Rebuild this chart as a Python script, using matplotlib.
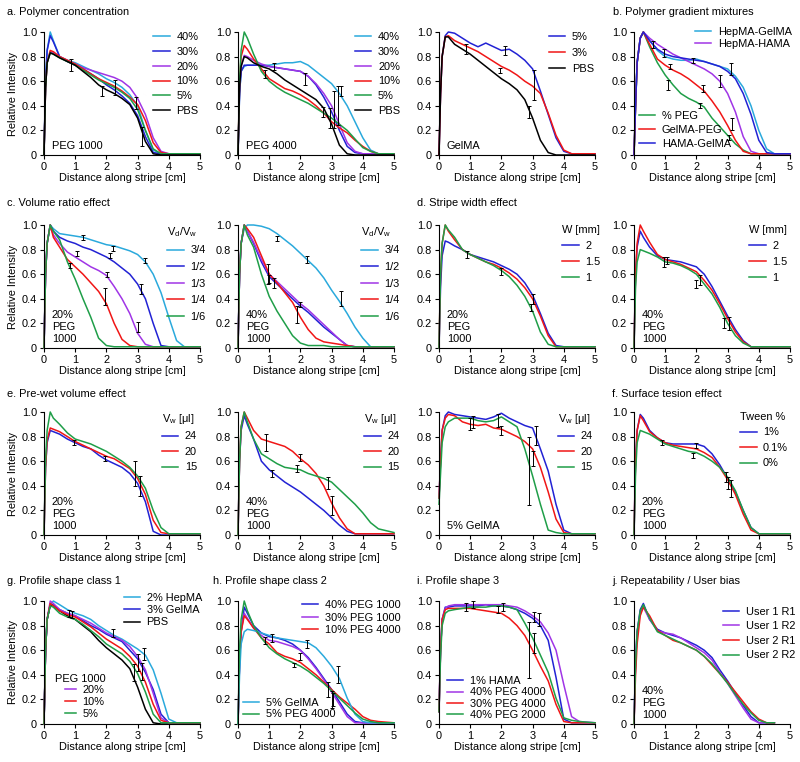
import matplotlib
matplotlib.use('Agg')
import matplotlib.pyplot as plt

plt.rcParams['font.family'] = ['Liberation Sans', 'DejaVu Sans']
plt.rcParams['mathtext.fontset'] = 'custom'
plt.rcParams['mathtext.rm'] = 'Liberation Sans'
plt.rcParams['mathtext.it'] = 'Liberation Sans:italic'
FS = 7.9
plt.rcParams['font.size'] = FS

# sampling positions along the stripe [cm], shared by every profile
DIST = [0, 0.05, 0.1, 0.2, 0.3, 0.5, 0.75, 1.0, 1.25, 1.5, 1.75, 2.0,
        2.25, 2.5, 2.75, 3.0, 3.25, 3.5, 3.75, 4.0, 4.25, 4.5, 5.0]
NAN = float('nan')

# --- a. polymer concentration -------------------------------------------
A1_LABELS = ['40%', '30%', '20%', '10%', '5%', 'PBS']
A1_Y = [
    [0, .6, .85, 1.0, .93, .8, .77, .75, .72, .69, .66, .62, .59, .55, .49, .4, .2, .04, .01, .01, .01, .01, .01],
    [0, .6, .85, .97, .92, .8, .76, .73, .7, .66, .62, .57, .53, .48, .42, .32, .15, .02, .01, .01, .01, .01, .01],
    [0, .55, .75, .84, .83, .8, .77, .74, .71, .69, .67, .65, .63, .6, .55, .46, .33, .14, .03, .01, .01, .01, .01],
    [0, .55, .75, .85, .84, .8, .77, .74, .7, .66, .62, .59, .56, .52, .47, .41, .28, .1, .02, .01, .01, .01, .01],
    [0, .55, .75, .83, .82, .79, .76, .73, .69, .65, .61, .58, .55, .51, .46, .37, .2, .05, .01, .01, .01, .01, .01],
    [0, .55, .75, .83, .82, .79, .76, .73, .68, .63, .57, .53, .5, .46, .41, .3, .11, .01, 0, 0, 0, 0, 0],
]
A1_ERR = [(0.85, 0.73, 0.05), (1.85, 0.52, 0.04), (2.28, 0.55, 0.06), (2.96, 0.42, 0.05), (3.13, 0.15, 0.08)]

A2_LABELS = ['40%', '30%', '20%', '10%', '5%', 'PBS']
A2_Y = [
    [0, .5, .68, .72, .73, .73, .73, .73, .74, .75, .75, .76, .73, .68, .63, .58, .5, .4, .27, .14, .04, .01, .01],
    [0, .5, .68, .73, .73, .73, .73, .72, .71, .7, .69, .68, .64, .57, .47, .35, .2, .07, .02, .01, .01, .01, .01],
    [0, .55, .72, .81, .8, .77, .74, .72, .71, .7, .69, .68, .64, .58, .5, .4, .25, .1, .03, .01, .01, .01, .01],
    [0, .6, .8, .89, .86, .78, .7, .62, .58, .54, .52, .49, .45, .4, .34, .27, .22, .18, .12, .07, .03, .01, .01],
    [0, .6, .85, 1.0, .95, .82, .68, .6, .55, .51, .48, .45, .42, .38, .34, .3, .25, .2, .13, .06, .03, .01, .01],
    [0, .55, .72, .8, .79, .75, .72, .7, .66, .61, .57, .53, .49, .45, .38, .25, .08, .01, 0, 0, 0, 0, 0],
]
A2_ERR = [(0.88, 0.66, 0.03), (1.14, 0.72, 0.03), (2.16, 0.62, 0.05), (2.74, 0.35, 0.04),
          (2.94, 0.3, 0.08), (3.09, 0.37, 0.15), (3.2, 0.4, 0.16), (3.3, 0.52, 0.04)]

A3_LABELS = ['5%', '3%', 'PBS']
A3_Y = [
    [0, .5, .8, .97, 1.0, .99, .95, .91, .88, .91, .88, .85, .86, .82, .77, .7, .52, .33, .14, .03, .01, .01, .01],
    [0, .5, .8, .96, .97, .93, .9, .87, .84, .8, .76, .72, .69, .65, .6, .56, .5, .34, .16, .04, .01, .01, .01],
    [0, .5, .8, .96, .96, .9, .86, .82, .77, .72, .67, .62, .58, .53, .45, .3, .12, .02, 0, 0, 0, 0, 0],
]
A3_ERR = [(0.85, 0.86, 0.04), (2.1, 0.85, 0.04), (1.95, 0.69, 0.02), (2.9, 0.35, 0.05), (3.05, 0.57, 0.12)]

# --- b. polymer gradient mixtures ---------------------------------------
B_LABELS = ['HepMA-GelMA', 'HepMA-HAMA', '% PEG', 'GelMA-PEG', 'HAMA-GelMA']
B_Y = [
    [0, .4, .75, .95, 1.0, .93, .85, .8, .78, .77, .77, .78, .76, .74, .72, .7, .64, .55, .4, .2, .05, .01, .01],
    [0, .4, .75, .95, 1.0, .95, .9, .86, .82, .79, .76, .73, .7, .66, .6, .5, .35, .15, .03, .01, .01, .01, .01],
    [0, .4, .75, .95, 1.0, .88, .75, .65, .57, .5, .46, .43, .39, .3, .23, .16, .09, .04, .01, .01, .01, .01, .01],
    [0, .4, .75, .95, 1.0, .9, .78, .73, .69, .66, .62, .57, .52, .44, .35, .24, .12, .03, .01, .01, .01, .01, .01],
    [0, .4, .75, .95, 1.0, .93, .86, .82, .8, .79, .78, .77, .76, .74, .72, .68, .62, .5, .33, .12, .02, .01, .01],
]
B_ERR = [(0.6, 0.9, 0.03), (0.95, 0.83, 0.03), (1.15, 0.72, 0.02), (1.1, 0.57, 0.04), (1.9, 0.77, 0.02),
         (2.2, 0.54, 0.03), (2.1, 0.4, 0.02), (2.75, 0.6, 0.05), (3.1, 0.7, 0.05), (3.15, 0.25, 0.05), (3.05, 0.14, 0.02)]

# --- c. volume ratio effect ---------------------------------------------
C_LABELS = ['3/4', '1/2', '1/3', '1/4', '1/6']
C1_Y = [
    [0, .6, .85, 1.0, .97, .93, .92, .91, .9, .88, .86, .84, .83, .81, .79, .76, .7, .6, .45, .25, .06, .01, .01],
    [0, .6, .85, 1.0, .95, .9, .87, .85, .82, .8, .77, .74, .7, .65, .6, .52, .4, .2, .02, .01, .01, .01, .01],
    [0, .6, .85, 1.0, .92, .85, .78, .74, .7, .66, .63, .59, .5, .4, .28, .12, .03, .01, .01, .01, .01, .01, .01],
    [0, .6, .85, 1.0, .9, .82, .72, .66, .6, .53, .46, .36, .2, .07, .02, .01, .01, .01, .01, .01, .01, .01, .01],
    [0, .6, .85, 1.0, .95, .88, .7, .56, .4, .25, .08, .02, .01, .01, .01, .01, .01, .01, .01, .01, .01, .01, .01],
]
C1_ERR = [(1.26, 0.9, 0.02), (2.22, 0.81, 0.02), (2.1, 0.75, 0.02), (3.24, 0.71, 0.02), (3.1, 0.48, 0.04),
          (2.03, 0.6, 0.02), (1.05, 0.77, 0.02), (0.83, 0.67, 0.02), (1.95, 0.42, 0.07), (3.0, 0.17, 0.04)]
C2_Y = [
    [0, .6, .85, .97, 1.0, 1.0, .99, .97, .93, .88, .83, .77, .71, .65, .57, .47, .38, .28, .17, .08, .01, .01, .01],
    [0, .6, .85, 1.0, .95, .85, .7, .58, .52, .46, .4, .34, .29, .23, .17, .12, .07, .02, .01, .01, .01, .01, .01],
    [0, .6, .85, 1.0, .95, .86, .72, .6, .54, .48, .42, .36, .31, .25, .19, .13, .07, .02, .01, .01, .01, .01, .01],
    [0, .6, .85, 1.0, .97, .9, .75, .6, .53, .45, .37, .25, .15, .08, .05, .04, .03, .02, .01, .01, .01, .01, .01],
    [0, .6, .85, 1.0, .92, .82, .6, .42, .3, .2, .1, .04, .02, .02, .02, .01, .01, .01, .01, .01, .01, .01, .01],
]
C2_ERR = [(1.25, 0.89, 0.02), (2.2, 0.72, 0.03), (3.3, 0.4, 0.06), (0.95, 0.6, 0.08), (1.0, 0.56, 0.03),
          (1.15, 0.53, 0.04), (1.9, 0.27, 0.07), (2.0, 0.35, 0.02)]

# --- d. stripe width effect ---------------------------------------------
D_LABELS = ['2', '1.5', '1']
D1_Y = [
    [0, .5, .75, .87, .86, .83, .8, .76, .74, .72, .7, .67, .64, .6, .53, .43, .28, .12, .02, .01, .01, .01, .01],
    [0, .6, .85, 1.0, .95, .88, .8, .76, .73, .7, .68, .65, .61, .56, .49, .4, .26, .1, .01, .01, .01, .01, .01],
    [0, .6, .85, 1.0, .96, .9, .8, .76, .73, .7, .67, .63, .58, .51, .42, .3, .13, .03, .01, .01, .01, .01, .01],
]
D1_ERR = [(0.9, 0.76, 0.03), (2.0, 0.62, 0.03), (3.0, 0.4, 0.04), (2.95, 0.33, 0.03)]
D2_Y = [
    [0, .6, .82, .95, .9, .82, .75, .72, .71, .7, .68, .66, .6, .5, .38, .26, .15, .06, .01, .01, .01, .01, .01],
    [0, .6, .85, 1.0, .95, .86, .76, .72, .7, .68, .65, .62, .55, .47, .36, .24, .13, .05, .01, .01, .01, .01, .01],
    [0, .5, .7, .8, .79, .77, .74, .7, .69, .67, .64, .6, .52, .44, .33, .2, .1, .04, .01, .01, .01, .01, .01],
]
D2_ERR = [(0.95, 0.7, 0.04), (1.05, 0.71, 0.03), (2.0, 0.52, 0.03), (2.1, 0.55, 0.04), (2.9, 0.2, 0.04), (3.05, 0.2, 0.05)]

# --- e. pre-wet volume effect -------------------------------------------
E_LABELS = ['24', '20', '15']
E1_Y = [
    [0, .55, .75, .85, .84, .82, .78, .75, .72, .7, .65, .61, .58, .55, .5, .42, .27, .03, 0, 0, 0, 0, 0],
    [0, .55, .77, .87, .86, .84, .8, .76, .73, .7, .67, .64, .62, .58, .54, .46, .33, .12, .02, .01, .01, .01, .01],
    [0, .6, .85, 1.0, .95, .9, .83, .78, .76, .74, .71, .68, .64, .6, .55, .48, .38, .2, .06, .01, .01, .01, .01],
]
E1_ERR = [(0.95, 0.75, 0.02), (1.95, 0.62, 0.02), (2.92, 0.5, 0.1), (3.07, 0.4, 0.08)]
E2_Y = [
    [0, .6, .85, .97, .9, .78, .6, .53, .48, .43, .39, .35, .3, .25, .2, .14, .08, .03, .01, .01, .01, .01, .01],
    [0, .6, .88, 1.0, .95, .85, .78, .76, .74, .72, .68, .62, .57, .5, .4, .26, .14, .05, .01, .01, .01, .01, .01],
    [0, .6, .88, 1.0, .92, .78, .66, .62, .58, .55, .54, .53, .5, .48, .46, .43, .37, .31, .25, .18, .1, .05, .02],
]
E2_ERR = [(0.9, 0.75, 0.07), (1.1, 0.5, 0.03), (1.9, 0.54, 0.03), (2.0, 0.63, 0.03), (2.9, 0.42, 0.05), (3.0, 0.24, 0.08)]
E3_Y = [
    [.3, .6, .85, .97, 1.0, .98, .97, .96, .95, .94, .96, .99, .95, .92, .89, .87, .7, .52, .25, .04, .01, .01, .01],
    [.3, .6, .85, .95, .98, .97, .92, .9, .89, .9, .87, .86, .83, .8, .76, .7, .55, .35, .13, .02, .01, .01, .01],
    [.25, .5, .75, .88, .92, .95, .95, .95, .93, .92, .93, .96, .92, .88, .7, .48, .25, .04, .02, .01, .01, .01, .01],
]
E3_ERR = [(1.0, 0.9, 0.05), (1.1, 0.92, 0.05), (1.9, 0.93, 0.05), (2.0, 0.85, 0.04), (3.1, 0.81, 0.08),
          (3.0, 0.62, 0.06), (2.9, 0.52, 0.28)]

# --- f. surface tension effect ------------------------------------------
F_LABELS = ['1%', '0.1%', '0%']
F_Y = [
    [0, .6, .85, .98, .95, .85, .79, .75, .74, .74, .74, .74, .72, .66, .57, .46, .35, .2, .06, .01, .01, .01, .01],
    [0, .6, .85, .97, .93, .84, .79, .75, .73, .72, .71, .7, .67, .63, .55, .45, .33, .17, .04, .01, .01, .01, .01],
    [0, .5, .75, .85, .84, .82, .78, .74, .72, .7, .68, .67, .64, .6, .55, .47, .36, .2, .06, .01, .01, .01, .01],
]
F_ERR = [(0.9, 0.75, 0.02), (2.0, 0.73, 0.02), (1.9, 0.65, 0.02), (2.95, 0.47, 0.04), (3.0, 0.42, 0.05), (3.1, 0.38, 0.07)]

# --- g. profile shape class 1 -------------------------------------------
G_LABELS = ['2% HepMA', '3% GelMA', 'PBS', '20%', '10%', '5%']
G_Y = [
    [0, .6, .85, .97, 1.0, .97, .93, .9, .88, .85, .8, .76, .72, .69, .65, .61, .56, .44, .25, .04, .01, .01, .01],
    [0, .6, .85, .97, .97, .93, .9, .88, .84, .8, .77, .73, .7, .67, .6, .53, .42, .28, .08, .01, .01, .01, .01],
    [0, .6, .85, .97, .96, .92, .88, .85, .8, .75, .68, .62, .57, .52, .45, .3, .12, .01, 0, 0, 0, 0, 0],
    [0, .6, .85, 1.0, .98, .93, .9, .88, .85, .82, .78, .74, .71, .68, .63, .55, .44, .25, .05, .01, .01, .01, .01],
    [0, .6, .85, .98, .96, .92, .89, .87, .83, .79, .74, .69, .65, .61, .55, .47, .34, .16, .03, .01, .01, .01, .01],
    [0, .6, .85, .96, .95, .9, .87, .85, .81, .76, .71, .65, .61, .57, .51, .41, .26, .08, .01, .01, .01, .01, .01],
]
G_ERR = [(0.8, 0.9, 0.03), (0.9, 0.89, 0.03), (2.2, 0.74, 0.03), (2.9, 0.42, 0.07), (3.0, 0.5, 0.07),
         (3.15, 0.43, 0.07), (3.2, 0.57, 0.05)]

# --- h. profile shape class 2 -------------------------------------------
H_LABELS = ['40% PEG 1000', '30% PEG 1000', '10% PEG 4000', '5% GelMA', '5% PEG 4000']
H_Y = [
    [0, .5, .75, .95, .9, .8, .74, .71, .7, .68, .65, .6, .54, .46, .37, .28, .18, .08, .02, .01, .01, .01, .01],
    [0, .5, .75, .9, .86, .78, .72, .68, .67, .65, .63, .6, .53, .45, .36, .26, .16, .06, .01, .01, .01, .01, .01],
    [0, .5, .75, .88, .85, .78, .7, .65, .58, .55, .53, .5, .45, .4, .34, .28, .22, .17, .12, .06, .03, .02, .01],
    [0, .4, .65, .75, .77, .76, .74, .72, .7, .69, .68, .67, .66, .62, .55, .47, .37, .21, .08, .02, .01, .01, .01],
    [0, .6, .85, 1.0, .92, .8, .7, .62, .57, .53, .5, .47, .43, .38, .33, .27, .21, .15, .09, .04, .02, .01, .01],
]
H_ERR = [(0.85, 0.68, 0.03), (1.1, 0.7, 0.03), (1.8, 0.48, 0.02), (2.0, 0.55, 0.03), (2.2, 0.65, 0.03),
         (2.9, 0.28, 0.06), (3.0, 0.2, 0.07), (3.05, 0.2, 0.05), (3.2, 0.4, 0.07)]

# --- i. profile shape 3 --------------------------------------------------
I_LABELS = ['1% HAMA', '40% PEG 4000', '30% PEG 4000', '40% PEG 2000']
I_Y = [
    [.1, .6, .85, .95, .95, .96, .96, .96, .96, .97, .96, .96, .95, .93, .9, .86, .8, .68, .38, .04, .01, .01, .01],
    [.1, .6, .85, .94, .96, .97, .97, .97, .97, .97, .97, .97, .96, .95, .92, .88, .83, .74, .6, .32, .06, .02, .01],
    [.1, .6, .85, .93, .94, .94, .94, .94, .93, .92, .91, .9, .86, .8, .72, .6, .47, .35, .16, .02, .01, .01, .01],
    [.1, .55, .8, .9, .92, .93, .94, .95, .95, .95, .96, .96, .95, .93, .82, .7, .56, .42, .21, .05, .03, .02, .01],
]
I_ERR = [(0.85, 0.95, 0.03), (1.1, 0.97, 0.03), (1.9, 0.93, 0.03), (2.05, 0.95, 0.03), (2.9, 0.6, 0.23),
         (3.05, 0.66, 0.08), (3.2, 0.85, 0.05), (3.05, 0.87, 0.04)]

# --- j. repeatability / user bias ---------------------------------------
J_LABELS = ['User 1 R1', 'User 1 R2', 'User 2 R1', 'User 2 R2']
J_Y = [
    [0, .5, .75, .93, .98, .85, .77, .74, .72, .7, .67, .64, .6, .54, .44, .35, .25, .15, .06, .01, .01, .01, NAN],
    [0, .5, .75, .9, .95, .85, .76, .74, .73, .7, .66, .62, .58, .52, .42, .33, .23, .13, .04, .01, .01, .01, NAN],
    [0, .4, .65, .88, .95, .88, .76, .72, .68, .66, .63, .6, .55, .48, .41, .34, .26, .18, .1, .04, .01, .01, NAN],
    [0, .5, .75, .92, .97, .86, .75, .72, .69, .66, .63, .6, .55, .49, .41, .33, .24, .16, .09, .03, .01, .01, NAN],
]

# colours
CYAN, BLUE, PURPLE = '#2aa9dc', '#2222d4', '#a035e6'
RED, GREEN, BLACK = '#f01616', '#1f9e48', '#000000'

fig = plt.figure(figsize=(8.0, 7.62), dpi=100)
W, H = 800.0, 762.0
COL_X = [44, 238, 439, 634]
ROW_Y = [(32, 155), (225, 348), (412, 535), (601, 724)]


def make_ax(row, col):
    top, bot = ROW_Y[row]
    ax = fig.add_axes([COL_X[col] / W, 1 - bot / H, 156 / W, (bot - top) / H])
    ax.set_xlim(0, 5)
    ax.set_ylim(0, 1.0)
    ax.set_xticks(range(6))
    ax.set_yticks([0, 0.2, 0.4, 0.6, 0.8, 1.0])
    ax.set_yticklabels(['0', '0.2', '0.4', '0.6', '0.8', '1.0'])
    for s in ('top', 'right'):
        ax.spines[s].set_visible(False)
    for s in ('left', 'bottom'):
        ax.spines[s].set_linewidth(0.8)
    ax.tick_params(direction='out', length=3, width=0.8, pad=2, labelsize=FS)
    ax.set_xlabel('Distance along stripe [cm]', fontsize=FS, labelpad=1)
    if col == 0:
        ax.set_ylabel('Relative Intensity', fontsize=FS, labelpad=3)
    return ax


def draw(ax, ys, colors, labels, errs=None):
    handles = []
    for y, c, lab in zip(ys, colors, labels):
        ln, = ax.plot(DIST, y, color=c, lw=1.1, label=lab, clip_on=False)
        handles.append(ln)
    if errs:
        ex, ey, ee = zip(*errs)
        ax.errorbar(ex, ey, yerr=ee, fmt='none', ecolor='black', elinewidth=0.7,
                    capsize=1.6, capthick=0.7, zorder=5)
    return handles


def legend(ax, handles, x, y, spacing, title=None, hlen=1.5):
    leg = ax.legend(handles=handles, loc='upper left', bbox_to_anchor=(x, y), frameon=False,
                    borderaxespad=0, borderpad=0, handlelength=hlen, handletextpad=0.6,
                    labelspacing=spacing, title=title, title_fontsize=FS, fontsize=FS,
                    alignment='left')
    # keep it as a plain artist so it is drawn once and the next legend does not replace it
    ax.legend_ = None
    ax.add_artist(leg)


def note(ax, text, x=0.05, y=0.03, va='bottom'):
    ax.text(x, y, text, transform=ax.transAxes, ha='left', va=va, fontsize=FS,
            linespacing=1.25)


# row 1
ax = make_ax(0, 0)
h = draw(ax, A1_Y, [CYAN, BLUE, PURPLE, RED, GREEN, BLACK], A1_LABELS, A1_ERR)
legend(ax, h, 0.70, 1.0, 0.44)
note(ax, 'PEG 1000')

ax = make_ax(0, 1)
h = draw(ax, A2_Y, [CYAN, BLUE, PURPLE, RED, GREEN, BLACK], A2_LABELS, A2_ERR)
legend(ax, h, 0.75, 1.0, 0.44)
note(ax, 'PEG 4000')

ax = make_ax(0, 2)
h = draw(ax, A3_Y, [BLUE, RED, BLACK], A3_LABELS, A3_ERR)
legend(ax, h, 0.705, 1.0, 0.54)
note(ax, 'GelMA')

ax = make_ax(0, 3)
h = draw(ax, B_Y, [CYAN, PURPLE, GREEN, RED, BLUE], B_LABELS, B_ERR)
legend(ax, h[:2], 0.39, 1.04, 0.18)
legend(ax, h[2:], 0.03, 0.36, 0.38)

# row 2
vd = r'V$_\mathrm{d}$/V$_\mathrm{w}$'
for col, ys, errs, txt in [(0, C1_Y, C1_ERR, '20%\nPEG\n1000'), (1, C2_Y, C2_ERR, '40%\nPEG\n1000')]:
    ax = make_ax(1, col)
    h = draw(ax, ys, [CYAN, BLUE, PURPLE, RED, GREEN], C_LABELS, errs)
    legend(ax, h, 0.79, 1.0, 0.6, title=vd)
    note(ax, txt)

for col, ys, errs, txt in [(2, D1_Y, D1_ERR, '20%\nPEG\n1000'), (3, D2_Y, D2_ERR, '40%\nPEG\n1000')]:
    ax = make_ax(1, col)
    h = draw(ax, ys, [BLUE, RED, GREEN], D_LABELS, errs)
    legend(ax, h, 0.79 if col == 2 else 0.74, 1.0, 0.54, title='W [mm]')
    note(ax, txt)

# row 3
vw = r'V$_\mathrm{w}$ [μl]'
for col, ys, errs, txt in [(0, E1_Y, E1_ERR, '20%\nPEG\n1000'), (1, E2_Y, E2_ERR, '40%\nPEG\n1000'),
                           (2, E3_Y, E3_ERR, '5% GelMA')]:
    ax = make_ax(2, col)
    h = draw(ax, ys, [BLUE, RED, GREEN], E_LABELS, errs)
    legend(ax, h, [0.756, 0.81, 0.76][col], 1.0, 0.5, title=vw)
    note(ax, txt)

ax = make_ax(2, 3)
h = draw(ax, F_Y, [BLUE, RED, GREEN], F_LABELS, F_ERR)
legend(ax, h, 0.68, 1.0, 0.5, title='Tween %')
note(ax, '20%\nPEG\n1000')

# row 4
ax = make_ax(3, 0)
h = draw(ax, G_Y, [CYAN, BLUE, BLACK, PURPLE, RED, GREEN], G_LABELS, G_ERR)
legend(ax, h[:3], 0.51, 1.065, 0.2)
legend(ax, h[3:], 0.135, 0.315, 0.16, hlen=1.0)
note(ax, 'PEG 1000', x=0.07, y=0.363, va='center')

ax = make_ax(3, 1)
h = draw(ax, H_Y, [BLUE, PURPLE, RED, CYAN, GREEN], H_LABELS, H_ERR)
legend(ax, h[:3], 0.41, 1.01, 0.25)
legend(ax, h[3:], 0.03, 0.21, 0.12)

ax = make_ax(3, 2)
h = draw(ax, I_Y, [BLUE, PURPLE, RED, GREEN], I_LABELS, I_ERR)
legend(ax, h, 0.05, 0.39, 0.12)

ax = make_ax(3, 3)
h = draw(ax, J_Y, [BLUE, PURPLE, RED, GREEN], J_LABELS)
legend(ax, h, 0.57, 0.955, 0.42)
note(ax, '40%\nPEG\n1000')

# section titles
for txt, x, y in [('a. Polymer concentration', 7, 12), ('b. Polymer gradient mixtures', 613, 12),
                  ('c. Volume ratio effect', 7, 203), ('d. Stripe width effect', 417, 203),
                  ('e. Pre-wet volume effect', 7, 394), ('f. Surface tesion effect', 612, 394),
                  ('g. Profile shape class 1', 7, 581), ('h. Profile shape class 2', 213, 581),
                  ('i. Profile shape 3', 417, 581), ('j. Repeatability / User bias', 612, 581)]:
    fig.text(x / W, 1 - y / H, txt, ha='left', va='center', fontsize=FS)

fig.savefig('out.png', dpi=100)
